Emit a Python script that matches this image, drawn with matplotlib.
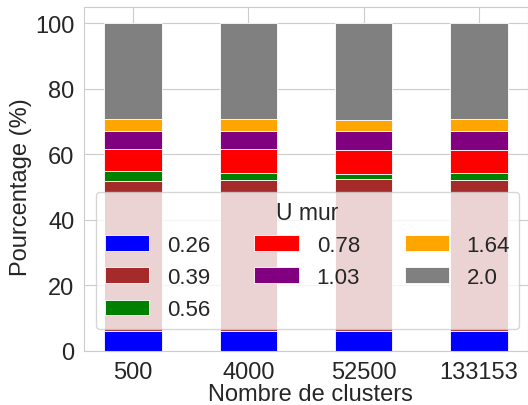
import numpy as np
import matplotlib
matplotlib.use("Agg")
import matplotlib.pyplot as plt
import seaborn as sns

clusters = ["500", "4000", "52500", "133153"]
u_mur = ["0.26", "0.39", "0.56", "0.78", "1.03", "1.64", "2.0"]
colors = ["blue", "brown", "green", "red", "purple", "orange", "gray"]

# pourcentage par classe U mur (lecture sur la figure)
p_026 = [6.2, 6.2, 6.2, 6.2]
p_039 = [45.7, 46.0, 46.3, 46.1]
p_056 = [2.9, 2.1, 1.6, 2.0]
p_078 = [6.9, 7.4, 7.2, 7.1]
p_103 = [5.6, 5.4, 5.7, 5.8]
p_164 = [3.6, 3.8, 3.6, 3.6]
p_200 = [29.1, 29.1, 29.4, 29.2]
series = [p_026, p_039, p_056, p_078, p_103, p_164, p_200]

sns.set_style("whitegrid")
plt.rcParams['font.family'] = ['Liberation Sans', 'DejaVu Sans']

fig = plt.figure(figsize=(5.28, 4.06), dpi=100)
ax = fig.add_axes([84 / 528, 54 / 406, 444 / 528, 344 / 406])

x = np.arange(len(clusters))
bottom = np.zeros(len(clusters))
for vals, lab, col in zip(series, u_mur, colors):
    ax.bar(x, vals, width=0.5, bottom=bottom, color=col, label=lab,
           edgecolor="white", linewidth=0.6)
    bottom += np.array(vals)

ax.set_xticks(x)
ax.set_xticklabels(clusters)
ax.tick_params(labelsize=17)
ax.set_xlabel("Nombre de clusters", fontsize=17)
ax.set_ylabel("Pourcentage (%)", fontsize=17)
ax.xaxis.set_label_coords(0.51, -0.093)
ax.yaxis.set_label_coords(-0.118, 0.48)
ax.legend(title="U mur", ncol=3, fontsize=16, title_fontsize=16.5,
          loc="lower center", bbox_to_anchor=(0.503, 0.064), borderaxespad=0)

fig.savefig("out.png", dpi=100)
